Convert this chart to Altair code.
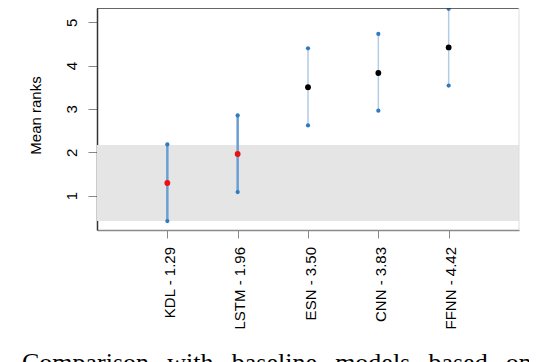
import altair as alt
import pandas as pd

# ---- data ----
models = ["KDL", "LSTM", "ESN", "CNN", "FFNN"]
mean_ranks = [1.29, 1.96, 3.50, 3.83, 4.42]
lower = [0.41, 1.08, 2.62, 2.96, 3.54]
upper = [2.18, 2.85, 4.40, 4.73, 5.31]
best_group = ["yes", "yes", "no", "no", "no"]
band = [0.41, 2.17]
y_ticks = [1, 2, 3, 4, 5]
caption_words = ["Comparison", "with", "baseline", "models", "based", "on"]

labels = [f"{m} - {v:.2f}" for m, v in zip(models, mean_ranks)]
pos = list(range(1, len(models) + 1))
df = pd.DataFrame({"pos": pos, "model": models, "mean": mean_ranks,
                   "lo": lower, "hi": upper, "best": best_group})

W, H = 422, 222
FONT = "Liberation Sans"

xs = alt.Scale(domain=[0, len(models) + 1], nice=False, zero=False)
ys = alt.Scale(domain=[0.205, 5.33], nice=False, zero=False)

label_arr = "[" + ",".join(f"'{l}'" for l in labels) + "]"
x_axis = alt.Axis(values=pos, labelExpr=f"{label_arr}[datum.value-1]", title=None,
                  labelAngle=270, labelAlign="right", labelBaseline="alphabetic",
                  labelOffset=7, labelPadding=8.5, tickSize=8, tickColor="#888888",
                  domainColor="#8a8a8a", domainWidth=1.5, grid=False,
                  labelFont=FONT, labelFontSize=15, labelColor="#000000")
y_axis = alt.Axis(values=y_ticks, title="Mean ranks", labelAngle=270,
                  labelAlign="center", labelBaseline="alphabetic", labelPadding=11.5,
                  tickSize=9, tickColor="#888888", domainColor="#333333", domainWidth=1.5,
                  grid=False, labelFont=FONT, labelFontSize=15, labelColor="#000000",
                  titleFont=FONT, titleFontSize=15, titleFontWeight="normal",
                  titleColor="#000000", titleAngle=270, titleAlign="center",
                  titleBaseline="alphabetic", titleX=-57, titleY=107)

band_df = pd.DataFrame({"x0": [0], "x1": [len(models) + 1], "y0": [band[0]], "y1": [band[1]]})
band_layer = alt.Chart(band_df).mark_rect(color="#E5E5E5").encode(
    x=alt.X("x0:Q", scale=xs, axis=x_axis), x2="x1:Q",
    y=alt.Y("y0:Q", scale=ys, axis=y_axis), y2="y1:Q")

base = alt.Chart(df)
lines = base.mark_rule().encode(
    x=alt.X("pos:Q", scale=xs, axis=x_axis),
    y=alt.Y("lo:Q", scale=ys, axis=y_axis), y2="hi:Q",
    color=alt.Color("best:N", scale=alt.Scale(domain=["yes", "no"], range=["#6a9fd4", "#b3cce6"]), legend=None),
    strokeWidth=alt.StrokeWidth("best:N", scale=alt.Scale(domain=["yes", "no"], range=[2.5, 1.5]), legend=None))
ends_lo = base.mark_circle(size=18, color="#2f7bc2", opacity=1).encode(
    x=alt.X("pos:Q", scale=xs, axis=x_axis), y=alt.Y("lo:Q", scale=ys, axis=y_axis))
ends_hi = base.mark_circle(size=18, color="#2f7bc2", opacity=1).encode(
    x=alt.X("pos:Q", scale=xs, axis=x_axis), y=alt.Y("hi:Q", scale=ys, axis=y_axis))
means = base.mark_circle(size=34, opacity=1).encode(
    x=alt.X("pos:Q", scale=xs, axis=x_axis), y=alt.Y("mean:Q", scale=ys, axis=y_axis),
    fill=alt.Fill("best:N", scale=alt.Scale(domain=["yes", "no"], range=["#ee1111", "#000000"]), legend=None))

frame_top = alt.Chart(pd.DataFrame({"a": [0]})).mark_rule(color="#333333", strokeWidth=1.5).encode(
    x=alt.value(0), x2=alt.value(W), y=alt.value(0))
frame_right = alt.Chart(pd.DataFrame({"a": [0]})).mark_rule(color="#dddddd", strokeWidth=1).encode(
    x=alt.value(W), y=alt.value(0), y2=alt.value(H))

caption = "\u00a0\u00a0\u2009".join(caption_words)
cap = alt.Chart(pd.DataFrame({"t": [caption]})).mark_text(
    font="Liberation Serif", fontSize=26, align="left", baseline="alphabetic", color="#000000").encode(
    text="t:N", x=alt.value(-75), y=alt.value(362.5))

chart = alt.layer(band_layer, lines, ends_lo, ends_hi, means, frame_top, frame_right, cap).properties(
    width=W, height=H,
    autosize=alt.AutoSizeParams(type="none"),
    padding={"left": 89, "top": 0, "right": 10, "bottom": 132},
).configure_view(stroke=None)

chart.save("out.html", embed_options={"renderer": "svg", "actions": False})
